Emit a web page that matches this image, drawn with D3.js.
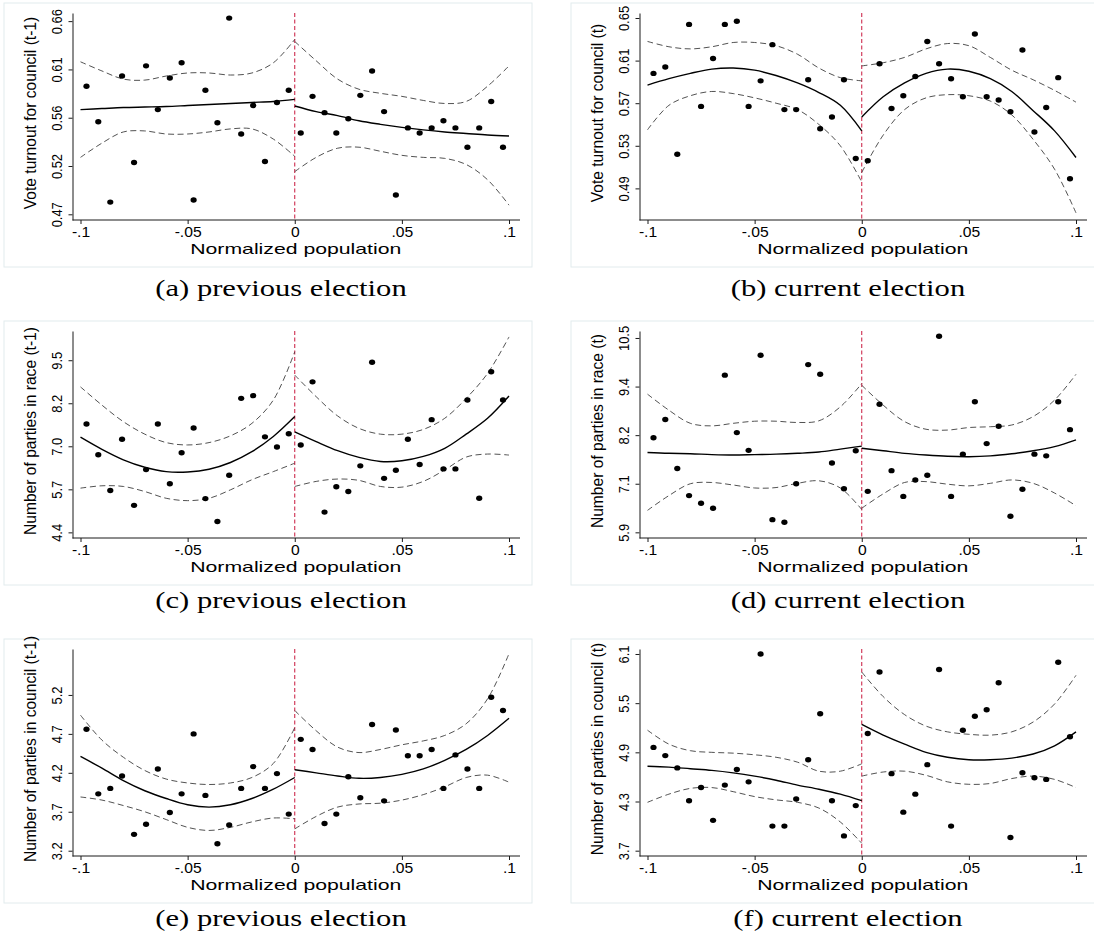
<!DOCTYPE html>
<html>
<head>
<meta charset="utf-8">
<script src="https://cdn.jsdelivr.net/npm/d3@7"></script>
<style>
body{margin:0;background:#fff}
</style>
</head>
<body>
<svg id="chart"></svg>
<script>
// bin centres (normalized population), 18 each side of the cutoff
let binX=[-0.0972,-0.0917,-0.0861,-0.0806,-0.0750,-0.0694,-0.0639,-0.0583,-0.0528,-0.0472,-0.0417,-0.0361,-0.0306,-0.0250,-0.0194,-0.0139,-0.0083,-0.0028,
          0.0028,0.0083,0.0139,0.0194,0.0250,0.0306,0.0361,0.0417,0.0472,0.0528,0.0583,0.0639,0.0694,0.0750,0.0806,0.0861,0.0917,0.0972]
let gridL=[-0.1,-0.09,-0.08,-0.07,-0.06,-0.05,-0.04,-0.03,-0.02,-0.01,0]
let gridR=[0,0.01,0.02,0.03,0.04,0.05,0.06,0.07,0.08,0.09,0.1]
let xTickVals=[-0.1,-0.05,0,0.05,0.1]
let xTickLabels=['-.1','-.05','0','.05','.1']

// (a) vote turnout t-1
let aDots=[0.596,0.561,0.482,0.606,0.521,0.616,0.573,0.604,0.619,0.484,0.592,0.560,0.663,0.549,0.577,0.522,0.580,0.592,
           0.550,0.586,0.570,0.550,0.564,0.587,0.611,0.571,0.489,0.555,0.550,0.555,0.562,0.555,0.536,0.555,0.581,0.536]
let aFitL=[0.573,0.574,0.575,0.5755,0.576,0.577,0.578,0.579,0.580,0.581,0.583]
let aFitR=[0.5765,0.571,0.567,0.562,0.5585,0.5555,0.553,0.551,0.5495,0.548,0.547]
let aUpL=[0.620,0.611,0.603,0.602,0.606,0.609,0.609,0.607,0.609,0.619,0.642]
let aLoL=[0.526,0.540,0.551,0.552,0.549,0.549,0.551,0.554,0.554,0.544,0.527]
let aUpR=[0.640,0.621,0.603,0.593,0.589,0.586,0.582,0.579,0.581,0.596,0.616]
let aLoR=[0.512,0.526,0.535,0.536,0.532,0.528,0.526,0.525,0.519,0.504,0.479]
let aRange=[0.4644,0.668]
let aTicks=['0.47','0.52','0.56','0.61','0.66']

// (b) vote turnout t
let bDots=[0.598,0.604,0.522,0.644,0.567,0.612,0.644,0.647,0.567,0.591,0.625,0.564,0.564,0.592,0.546,0.557,0.592,0.518,
           0.516,0.607,0.565,0.577,0.595,0.628,0.607,0.593,0.576,0.635,0.576,0.573,0.562,0.620,0.543,0.566,0.594,0.499]
let bFitL=[0.587,0.593,0.598,0.602,0.603,0.601,0.596,0.589,0.580,0.568,0.544]
let bFitR=[0.557,0.576,0.589,0.598,0.602,0.600,0.593,0.581,0.563,0.544,0.519]
let bUpL=[0.628,0.623,0.621,0.623,0.627,0.627,0.624,0.616,0.603,0.594,0.591]
let bLoL=[0.545,0.568,0.577,0.581,0.579,0.575,0.570,0.564,0.550,0.530,0.496]
let bUpR=[0.605,0.608,0.613,0.621,0.626,0.624,0.613,0.601,0.592,0.582,0.571]
let bLoR=[0.505,0.540,0.564,0.575,0.578,0.577,0.572,0.559,0.536,0.508,0.467]
let bRange=[0.4603,0.6547]
let bTicks=['0.49','0.53','0.57','0.61','0.65']

// (c) parties in race t-1
let cDots=[7.61,6.70,5.64,7.16,5.20,6.26,7.61,5.84,6.76,7.49,5.40,4.72,6.09,8.37,8.45,7.23,6.93,7.32,
           6.99,8.86,5.00,5.75,5.61,6.37,9.44,6.00,6.24,7.16,6.41,7.74,6.28,6.28,8.32,5.41,9.16,8.32]
let cFitL=[7.22,6.86,6.55,6.33,6.20,6.19,6.27,6.47,6.79,7.24,7.83]
let cFitR=[7.38,7.09,6.82,6.62,6.50,6.52,6.65,6.89,7.31,7.78,8.44]
let cUpL=[8.71,8.17,7.68,7.31,7.06,6.99,7.06,7.26,7.63,8.32,9.75]
let cLoL=[5.71,5.78,5.76,5.61,5.41,5.34,5.41,5.66,5.96,6.20,6.45]
let cUpR=[9.06,8.42,7.85,7.48,7.31,7.31,7.45,7.78,8.37,9.11,10.19]
let cLoR=[5.76,5.91,5.98,5.94,5.76,5.74,5.91,6.25,6.63,6.72,6.69]
let cRange=[4.233,10.366]
let cTicks=['4.4','5.7','7.0','8.2','9.5']

// (d) parties in race t
let dDots=[8.14,8.57,7.41,6.77,6.59,6.47,9.62,8.26,7.84,10.09,6.20,6.14,7.05,9.87,9.64,7.54,6.93,7.83,
           6.87,8.93,7.36,6.75,7.14,7.25,10.54,6.75,7.75,8.99,8.00,8.41,6.28,6.92,7.75,7.71,8.99,8.33]
let dFitL=[7.79,7.77,7.76,7.74,7.73,7.74,7.75,7.77,7.80,7.87,7.94]
let dFitR=[7.89,7.83,7.77,7.73,7.70,7.69,7.71,7.76,7.83,7.93,8.09]
let dUpL=[9.17,8.79,8.48,8.42,8.48,8.53,8.53,8.50,8.54,8.87,9.42]
let dLoL=[6.42,6.77,7.05,7.08,7.02,6.95,6.96,7.06,7.12,6.95,6.44]
let dUpR=[9.38,8.91,8.52,8.34,8.32,8.38,8.40,8.44,8.64,9.03,9.64]
let dLoR=[6.47,6.81,7.08,7.10,7.04,7.00,7.06,7.14,7.06,6.83,6.53]
let dRange=[5.766,10.665]
let dTicks=['5.9','7.1','8.2','9.4','10.5']

// (e) parties in council t-1
let eDots=[4.76,3.93,4.00,4.16,3.41,3.54,4.25,3.69,3.93,4.70,3.91,3.29,3.53,4.00,4.28,4.00,4.19,3.67,
           4.63,4.50,3.55,3.67,4.15,3.88,4.82,3.84,4.75,4.42,4.42,4.50,4.00,4.43,4.25,4.00,5.17,5.00]
let eFitL=[4.41,4.26,4.10,3.97,3.87,3.79,3.76,3.79,3.87,3.99,4.14]
let eFitR=[4.24,4.20,4.16,4.13,4.14,4.18,4.25,4.36,4.50,4.68,4.90]
let eUpL=[4.94,4.62,4.40,4.23,4.12,4.07,4.05,4.07,4.14,4.32,4.78]
let eLoL=[3.89,3.85,3.78,3.70,3.60,3.50,3.46,3.50,3.57,3.62,3.61]
let eUpR=[5.00,4.74,4.53,4.46,4.50,4.56,4.61,4.68,4.83,5.15,5.73]
let eLoR=[3.48,3.64,3.76,3.80,3.81,3.85,3.92,4.02,4.14,4.17,4.08]
let eRange=[3.132,5.79]
let eTicks=['3.2','3.7','4.2','4.7','5.2']

// (f) parties in council t
let fDots=[4.96,4.86,4.71,4.31,4.47,4.07,4.50,4.69,4.54,6.10,4.00,4.00,4.33,4.81,5.37,4.31,3.88,4.25,
           5.13,5.88,4.64,4.17,4.39,4.75,5.91,4.00,5.17,5.34,5.42,5.75,3.86,4.65,4.59,4.57,6.00,5.09]
let fFitL=[4.73,4.72,4.70,4.68,4.65,4.61,4.56,4.50,4.45,4.39,4.31]
let fFitR=[5.24,5.11,5.00,4.90,4.84,4.81,4.81,4.83,4.88,4.98,5.15]
let fUpL=[5.17,5.00,4.92,4.90,4.89,4.87,4.84,4.78,4.67,4.67,4.76]
let fLoL=[4.29,4.39,4.46,4.47,4.42,4.36,4.32,4.29,4.22,4.05,3.79]
let fUpR=[5.88,5.58,5.36,5.22,5.15,5.12,5.11,5.15,5.27,5.49,5.84]
let fLoR=[4.61,4.66,4.67,4.62,4.54,4.51,4.52,4.58,4.61,4.57,4.47]
let fRange=[3.635,6.161]
let fTicks=['3.7','4.3','4.9','5.5','6.1']

let yTitles=['Vote turnout for council (t-1)','Vote turnout for council (t)',
             'Number of parties in race (t-1)','Number of parties in race (t)',
             'Number of parties in council (t-1)','Number of parties in council (t)']
let captions=['(a) previous election','(b) current election','(c) previous election',
              '(d) current election','(e) previous election','(f) current election']

let panels=[
  {dots:aDots,fitL:aFitL,fitR:aFitR,upL:aUpL,loL:aLoL,upR:aUpR,loR:aLoR,range:aRange,ticks:aTicks},
  {dots:bDots,fitL:bFitL,fitR:bFitR,upL:bUpL,loL:bLoL,upR:bUpR,loR:bLoR,range:bRange,ticks:bTicks},
  {dots:cDots,fitL:cFitL,fitR:cFitR,upL:cUpL,loL:cLoL,upR:cUpR,loR:cLoR,range:cRange,ticks:cTicks},
  {dots:dDots,fitL:dFitL,fitR:dFitR,upL:dUpL,loL:dLoL,upR:dUpR,loR:dLoR,range:dRange,ticks:dTicks},
  {dots:eDots,fitL:eFitL,fitR:eFitR,upL:eUpL,loL:eLoL,upR:eUpR,loR:eLoR,range:eRange,ticks:eTicks},
  {dots:fDots,fitL:fFitL,fitR:fFitR,upL:fUpL,loL:fLoL,upR:fUpR,loR:fLoR,range:fRange,ticks:fTicks}
]

let width=1094
let height=938
let colX=[0,567]
let rowTop=[3,321,639]
let capOffset=[293,287,287]
let sans='"Liberation Sans", Arial, sans-serif'
let serif='"Liberation Serif", "Times New Roman", serif'
let ink='#1a1a1a'

let svg=d3.select('#chart').attr('width',width).attr('height',height)
svg.append('rect').attr('width',width).attr('height',height).attr('fill','#fff')

let drawPanel=(p,i)=>{
  let ox=colX[i%2]
  let row=Math.floor(i/2)
  let top=rowTop[row]
  let axisX=72.5+ox
  let axisB=top+217
  let axisT=top+10

  let xScale=d3.scaleLinear().domain([-0.1,0.1]).range([80.5+ox,509+ox])
  let yScale=d3.scaleLinear().domain(p.range).range([axisB,axisT])
  let t0=+p.ticks[0], t1=+p.ticks[p.ticks.length-1]
  let tickVals=p.ticks.map((d,k)=>t0+(t1-t0)*k/(p.ticks.length-1))

  // outer graph box
  svg.append('rect')
    .attr('x',4+ox).attr('y',top).attr('width',528).attr('height',264)
    .attr('fill','none').attr('stroke','#e2ebed').attr('stroke-width',1)

  // y axis
  let yAxis=d3.axisLeft(yScale).tickValues(tickVals).tickFormat((d,k)=>p.ticks[k]).tickSize(4).tickSizeOuter(0)
  let gy=svg.append('g').attr('transform','translate('+axisX+',0)').call(yAxis)
    .attr('font-family',sans).attr('font-size',15)
  gy.select('.domain').attr('stroke',ink)
  gy.selectAll('.tick line').attr('stroke',ink)
  gy.selectAll('.tick text')
    .attr('transform','rotate(-90)').attr('x',0).attr('y',-10.5).attr('dy',null)
    .attr('text-anchor','middle').attr('fill','#000')
    .each(function(){
      let w=this.getComputedTextLength()
      d3.select(this).attr('textLength',w*0.86).attr('lengthAdjust','spacingAndGlyphs')
    })

  // x axis
  let xAxis=d3.axisBottom(xScale).tickValues(xTickVals).tickFormat((d,k)=>xTickLabels[k]).tickSize(4)
  let gx=svg.append('g').attr('transform','translate(0,'+axisB+')').call(xAxis)
    .attr('font-family',sans).attr('font-size',14.5)
  gx.select('.domain').remove()
  gx.selectAll('.tick line').attr('stroke',ink)
  gx.selectAll('.tick text').attr('y',17).attr('dy',null).attr('fill','#000')
    .each(function(){
      let w=this.getComputedTextLength()
      d3.select(this).attr('textLength',w*1.08).attr('lengthAdjust','spacingAndGlyphs')
    })
  svg.append('line')
    .attr('x1',axisX).attr('x2',520+ox).attr('y1',axisB).attr('y2',axisB)
    .attr('stroke',ink).attr('stroke-width',1)

  // axis titles
  svg.append('text')
    .attr('x',xScale(0)+1).attr('y',axisB+34)
    .attr('text-anchor','middle').attr('font-family',sans).attr('font-size',14.5)
    .attr('textLength',211).attr('lengthAdjust','spacingAndGlyphs')
    .text('Normalized population')
  svg.append('text')
    .attr('transform','translate('+(axisX-36.5)+','+(top+110)+') rotate(-90)')
    .attr('text-anchor','middle').attr('font-family',sans).attr('font-size',15.6)
    .text(yTitles[i])

  // cutoff line
  svg.append('line')
    .attr('x1',xScale(0)).attr('x2',xScale(0)).attr('y1',axisT).attr('y2',axisB)
    .attr('stroke','#c8173d').attr('stroke-width',1).attr('stroke-dasharray','4,2.5')

  let line=(xs)=>d3.line().x((d,k)=>xScale(xs[k])).y(d=>yScale(d)).curve(d3.curveCatmullRom.alpha(0.5))

  // confidence bands
  ;[[gridL,p.upL],[gridL,p.loL],[gridR,p.upR],[gridR,p.loR]].forEach(([xs,ys])=>{
    svg.append('path').attr('d',line(xs)(ys))
      .attr('fill','none').attr('stroke','#333').attr('stroke-width',0.85).attr('stroke-dasharray','6,3.5')
  })
  // fitted lines
  ;[[gridL,p.fitL],[gridR,p.fitR]].forEach(([xs,ys])=>{
    svg.append('path').attr('d',line(xs)(ys))
      .attr('fill','none').attr('stroke','#000').attr('stroke-width',1.4)
  })

  // binned means
  svg.append('g').selectAll('ellipse')
    .data(p.dots)
    .enter()
    .append('ellipse')
    .attr('cx',(d,k)=>xScale(binX[k]))
    .attr('cy',d=>yScale(d))
    .attr('rx',3.1)
    .attr('ry',2.7)
    .attr('fill','#000')

  // subfigure caption
  let cap=svg.append('text')
    .attr('x',(i%2?848:281)).attr('y',top+capOffset[row])
    .attr('text-anchor','middle').attr('font-family',serif).attr('font-size',23)
    .attr('fill','#000')
    .text(captions[i])
  let w=cap.node().getComputedTextLength()
  cap.attr('textLength',w*1.33).attr('lengthAdjust','spacingAndGlyphs')
}

panels.forEach(drawPanel)
</script>
</body>
</html>
